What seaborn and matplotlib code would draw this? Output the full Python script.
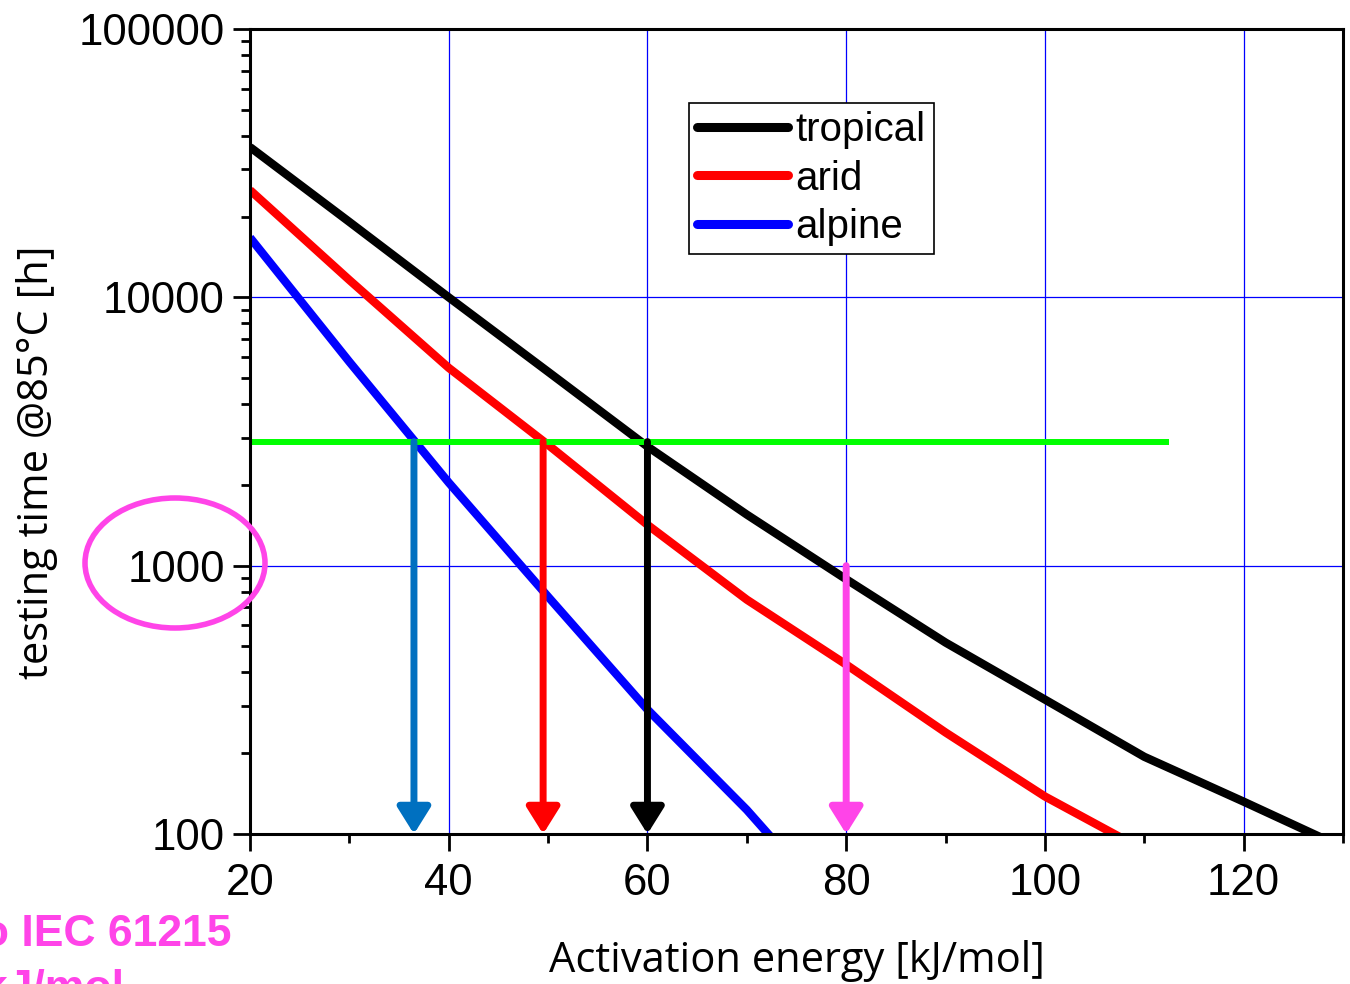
import numpy as np
import pandas as pd
import matplotlib
matplotlib.use("Agg")
import matplotlib.pyplot as plt
import matplotlib.ticker as mticker
from matplotlib.patches import Ellipse
from matplotlib.lines import Line2D
import seaborn as sns

# ---------------- data ----------------
energy = [20, 30, 40, 50, 60, 70, 80, 90, 100, 110, 120, 130]
tropical = [36300, 19100, 10000, 5280, 2780, 1550, 890, 517, 317, 194, 132, 89]
arid = [25100, 11600, 5460, 2820, 1420, 747, 428, 239, 138, 87, None, None]
alpine = [16700, 5750, 2040, 766, 291, 123, 47, None, None, None, None, None]
series_names = ["tropical", "arid", "alpine"]
series_colors = ["#000000", "#FF0000", "#0000FF"]

limit_x = [20, 112.5]
limit_y = [2900, 2900]

arrow_x = [36.5, 49.5, 60, 80]
arrow_top = [2900, 2900, 2900, 1000]
arrow_colors = ["#0070C0", "#FF0000", "#000000", "#FF44E8"]

x_ticks = [20, 40, 60, 80, 100, 120]
y_ticks = [100, 1000, 10000, 100000]
y_ticklabels = ["100", "1000", "10000", "100000"]

rows = []
for name, vals in zip(series_names, [tropical, arid, alpine]):
    for e, v in zip(energy, vals):
        if v is not None:
            rows.append({"energy": e, "time": v, "climate": name})
df = pd.DataFrame(rows)

# ---------------- style ----------------
sns.set_style("ticks")
plt.rcParams["font.family"] = ["Liberation Sans", "DejaVu Sans"]
plt.rcParams["text.color"] = "black"
plt.rcParams["axes.labelcolor"] = "black"

W, H = 1350, 984
fig = plt.figure(figsize=(W / 100, H / 100), dpi=100)
ax = fig.add_axes([250 / W, 1 - 834 / H, 1093 / W, 805 / H])

sns.lineplot(data=df, x="energy", y="time", hue="climate",
             hue_order=series_names, palette=series_colors,
             linewidth=6, ax=ax, legend=False, zorder=3,
             solid_capstyle="butt")

ax.plot(limit_x, limit_y, color="#00FF00", linewidth=4.3, zorder=4,
        solid_capstyle="butt")

for xv, top, c in zip(arrow_x, arrow_top, arrow_colors):
    ax.annotate("", xy=(xv, 100), xytext=(xv, top),
                arrowprops=dict(arrowstyle="-|>,head_length=0.8,head_width=0.5",
                                color=c, lw=5, shrinkA=0, shrinkB=0,
                                mutation_scale=20),
                annotation_clip=False, zorder=5)

ax.set_yscale("log")
ax.set_xlim(20, 130)
ax.set_ylim(100, 100000)

ax.set_xticks(x_ticks)
ax.xaxis.set_minor_locator(mticker.MultipleLocator(10))
ax.yaxis.set_major_locator(mticker.FixedLocator(y_ticks))
ax.yaxis.set_major_formatter(mticker.FixedFormatter(y_ticklabels))
ax.yaxis.set_minor_locator(mticker.LogLocator(base=10, subs=np.arange(2, 10)))
ax.yaxis.set_minor_formatter(mticker.NullFormatter())

ax.grid(True, which="major", color="#0000FF", linewidth=0.9)
ax.set_axisbelow(True)

for s in ax.spines.values():
    s.set_linewidth(2.2)
    s.set_color("black")
    s.set_zorder(6)

ax.tick_params(axis="both", which="major", direction="out", length=12,
               width=2, labelsize=31.5, color="black", labelcolor="black")
ax.tick_params(axis="both", which="minor", direction="out", length=6.5,
               width=2, color="black")
ax.tick_params(axis="x", which="major", pad=9)
ax.tick_params(axis="y", which="major", pad=6)
ax.tick_params(top=False, right=False, which="both")

ax.set_xlabel("Activation energy [kJ/mol]", fontsize=30, color="black",
              family=["Open Sans", "DejaVu Sans"], labelpad=26)
ax.set_ylabel("testing time @85°C [h]", fontsize=30, color="black",
              family=["Open Sans", "DejaVu Sans"])
ax.yaxis.set_label_coords((58 - 250) / 1093, (834 - 462) / 805)

# legend
handles = [Line2D([0], [0], color=c, lw=6.5, solid_capstyle="round")
           for c in series_colors]
leg = ax.legend(handles, series_names, loc="upper left",
                bbox_to_anchor=((689 - 250) / 1093, (834 - 103) / 805),
                borderaxespad=0, fontsize=29, handlelength=2.25,
                handletextpad=0.2, labelspacing=0.26, borderpad=0.2,
                frameon=True, fancybox=False, framealpha=1,
                edgecolor="black")
leg.get_frame().set_linewidth(1.2)
leg.set_zorder(7)
for t in leg.get_texts():
    t.set_color("black")

# magenta ellipse around 1000 label
ell = Ellipse((175 / W, 1 - 563 / H), 180 / W, 130 / H,
              transform=fig.transFigure, fill=False,
              edgecolor="#FF44E8", linewidth=4, zorder=10)
fig.add_artist(ell)

fig.text(232 / W, 1 - 946 / H, "to IEC 61215", ha="right", va="baseline",
         fontsize=32, fontweight="bold", color="#FF44E8")
fig.text(124 / W, 1 - 1001 / H, "80 kJ/mol", ha="right", va="baseline",
         fontsize=32, fontweight="bold", color="#FF44E8")

fig.savefig("out.png", dpi=100)
